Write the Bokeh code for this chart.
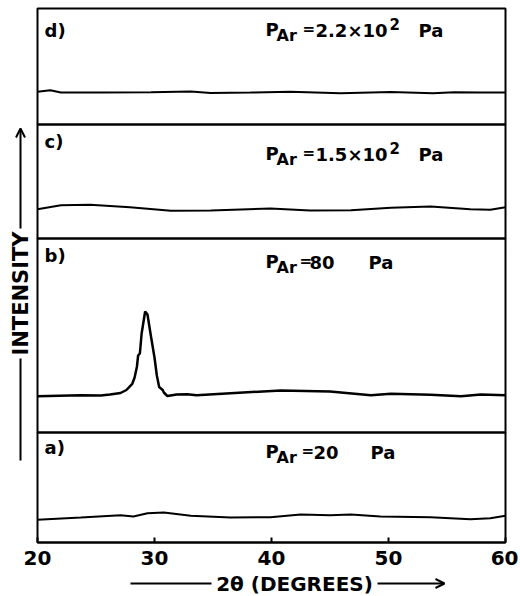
import math
from bokeh.plotting import figure
from bokeh.models import Range1d, Label, Arrow, OpenHead, FixedTicker, ColumnDataSource
from bokeh.transform import dodge
from bokeh.embed import file_html
from bokeh.resources import INLINE

# ---------------- data (2theta in degrees, intensity in arbitrary units) ----------------
two_theta_ticks = [20, 30, 40, 50, 60]

a_2theta = [20.0, 23.7, 27.1, 28.2, 29.4, 30.8, 33.1, 36.5, 39.9, 42.5, 45.0, 46.8, 49.3, 53.6, 57.0, 58.7, 60.0]
a_int = [22.7, 25.0, 27.3, 26.0, 29.3, 30.0, 26.7, 25.0, 25.3, 28.0, 27.3, 28.0, 26.0, 25.3, 23.3, 24.3, 26.7]

b_2theta = [20.0, 23.7, 25.4, 26.2, 27.1, 27.6, 28.1, 28.3, 28.5, 28.6, 28.75, 28.9, 29.2, 29.4, 29.7,
            30.0, 30.2, 30.4, 30.7, 30.8, 31.1, 31.9, 32.8, 33.6, 36.5, 40.8, 45.0, 48.5, 50.2, 53.6,
            56.2, 57.9, 60.0]
b_int = [36.3, 37.3, 37.0, 38.0, 39.5, 42.5, 48.7, 55.0, 66.0, 77.0, 79.0, 99.0, 121.0, 118.0, 96.0,
         75.0, 57.0, 45.5, 42.5, 40.0, 36.5, 38.0, 38.3, 37.3, 39.3, 42.0, 41.0, 37.3, 38.7, 37.7,
         36.3, 38.0, 37.3]

c_2theta = [20.0, 22.0, 24.5, 27.9, 31.4, 34.8, 39.9, 43.3, 46.8, 50.2, 53.6, 57.0, 58.7, 60.0]
c_int = [29.3, 33.3, 33.7, 31.3, 27.7, 28.0, 30.0, 28.0, 28.3, 30.7, 32.0, 29.3, 28.7, 31.3]

d_2theta = [20.0, 21.1, 22.0, 25.4, 29.7, 33.1, 34.8, 38.2, 41.6, 45.9, 50.2, 53.8, 55.6, 57.9, 60.0]
d_int = [32.7, 34.3, 32.0, 32.0, 32.3, 33.0, 31.5, 32.0, 32.7, 31.3, 32.5, 31.2, 32.3, 32.0, 32.0]

panel_names = ["a)", "b)", "c)", "d)"]
panel_bottoms = [0, 110, 304, 418]   # stacking offsets of the four panels
panel_tops = [110, 304, 418, 534]
pressure_values = ["20", "80", "1.5×10", "2.2×10"]
pressure_exponent = [None, None, "2", "2"]

# ---------------- layout helpers (reference pixel -> data coordinates) ----------------
W, H = 518, 594
X0, X1 = 20, 60          # 2theta range of the plotted box
BOX_L, BOX_R = 37, 505   # pixel position of the box edges
BOX_B = 542              # pixel position of the box bottom

def dx(px):
    return X0 + (px - BOX_L) * (X1 - X0) / (BOX_R - BOX_L)

def dy(py):
    return BOX_B - py

FONT = "DejaVu Sans"
p = figure(width=W, height=H, x_range=Range1d(dx(0), dx(W)), y_range=Range1d(dy(H), dy(0)),
           output_backend="svg", toolbar_location=None,
           min_border_left=0, min_border_right=0, min_border_top=0, min_border_bottom=0)
p.xgrid.visible = False
p.ygrid.visible = False
p.yaxis.visible = False
p.outline_line_color = None
p.background_fill_color = "white"
p.border_fill_color = "white"

# real x axis, pinned to the bottom of the stacked panels
ax = p.xaxis[0]
ax.fixed_location = 0
ax.bounds = (X0, X1)
ax.ticker = FixedTicker(ticks=two_theta_ticks)
ax.major_tick_in = 5
ax.major_tick_out = 0
ax.minor_tick_in = 0
ax.minor_tick_out = 0
ax.axis_line_width = 2
ax.axis_line_color = "black"
ax.major_tick_line_width = 2
ax.major_tick_line_color = "black"
ax.major_label_text_font = FONT
ax.major_label_text_font_size = "20px"
ax.major_label_text_font_style = "bold"
ax.major_label_text_color = "black"
ax.major_label_standoff = 8

# panel boxes
p.quad(left=[X0] * 4, right=[X1] * 4, bottom=panel_bottoms, top=panel_tops,
       fill_color=None, line_color="black", line_width=2)

# curves
for xs, ys, off, lw in [(a_2theta, a_int, panel_bottoms[0], 2),
                        (b_2theta, b_int, panel_bottoms[1], 2.5),
                        (c_2theta, c_int, panel_bottoms[2], 2),
                        (d_2theta, d_int, panel_bottoms[3], 2)]:
    src = ColumnDataSource(dict(x=xs, y=ys))
    p.line(x="x", y=dodge("y", off), source=src, line_color="black", line_width=lw)

def lab(text, px, py, size, align="left", angle=0.0):
    p.add_layout(Label(x=dx(px), y=dy(py), text=text, text_font=FONT,
                       text_font_size=f"{size}px", text_font_style="bold",
                       text_color="black", text_align=align, text_baseline="middle",
                       angle=angle))

# panel letters
for name, py in zip(panel_names, [447, 255, 141, 30]):
    lab(name, 44, py, 18)

# pressure annotations
press_layout = [
    dict(py=451, eq=301, val=313, pa=370),
    dict(py=261, eq=299, val=309, pa=368),
    dict(py=153, eq=302, val=315, pa=418),
    dict(py=29, eq=302, val=315, pa=418),
]
for val, ex, L in zip(pressure_values, pressure_exponent, press_layout):
    y0 = L["py"]
    lab("P", 265, y0, 18)
    lab("Ar", 276, y0 + 6, 16)
    lab("=", L["eq"], y0 - 1, 15)
    lab(val, L["val"], y0 + 1, 18)
    if ex:
        lab(ex, 389, y0 - 6, 15)
    lab("Pa", L["pa"], y0 + 1, 18)

# axis titles with arrows
lab("2θ (DEGREES)", 294, 583, 20, align="center")
p.add_layout(Arrow(end=None, x_start=dx(130), y_start=dy(583), x_end=dx(211), y_end=dy(583),
                   line_width=2, line_color="black"))
p.add_layout(Arrow(end=OpenHead(size=9, line_width=2, line_color="black"),
                   x_start=dx(377), y_start=dy(583), x_end=dx(444), y_end=dy(583),
                   line_width=2, line_color="black"))

lab("INTENSITY", 20, 293, 21, align="center", angle=math.pi / 2)
p.add_layout(Arrow(end=OpenHead(size=9, line_width=2, line_color="black"),
                   x_start=dx(20), y_start=dy(228), x_end=dx(20), y_end=dy(128),
                   line_width=2, line_color="black"))
p.add_layout(Arrow(end=None, x_start=dx(20), y_start=dy(358), x_end=dx(20), y_end=dy(460),
                   line_width=2, line_color="black"))

open("out.html", "w").write(file_html(p, INLINE))
